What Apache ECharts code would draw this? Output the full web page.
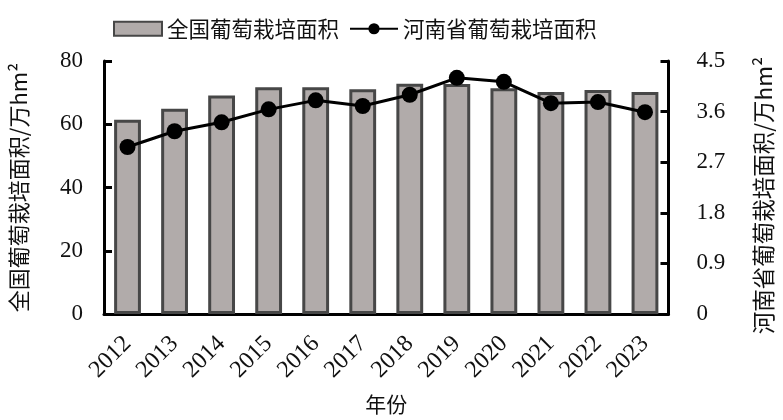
<!DOCTYPE html>
<html><head><meta charset="utf-8">
<script src="https://cdn.jsdelivr.net/npm/echarts@6/dist/echarts.min.js"></script>
<style>html,body{margin:0;padding:0;background:#fff}#c{width:783px;height:420px}</style>
</head><body><div id="c"></div>
<script>
const years = ['2012','2013','2014','2015','2016','2017','2018','2019','2020','2021','2022','2023'];
const nationalArea = [61.4, 64.9, 69.1, 71.7, 71.7, 71.1, 72.8, 72.7, 71.4, 70.2, 70.8, 70.2];
const henanArea = [2.97, 3.25, 3.41, 3.64, 3.80, 3.70, 3.90, 4.20, 4.13, 3.75, 3.77, 3.59];
const leftTicks = [0, 20, 40, 60, 80];
const rightTicks = ['0', '0.9', '1.8', '2.7', '3.6', '4.5'];

const serif = '"Liberation Serif","Times New Roman",serif';
const cjk = '"Noto Sans CJK SC",sans-serif';
const chart = echarts.init(document.getElementById('c'), null, {renderer:'canvas'});
chart.setOption({
  animation:false,
  backgroundColor:'#fff',
  legend:{
    top:13, left:108, itemGap:10, itemWidth:48, itemHeight:14,
    textStyle:{fontFamily:cjk, fontSize:21.5, color:'#111'},
    data:[
      {name:'全国葡萄栽培面积', icon:'rect'},
      {name:'河南省葡萄栽培面积'}
    ]
  },
  grid:{left:103, right:112, top:61, bottom:105},
  xAxis:{
    type:'category', data:years,
    name:'年份', nameLocation:'middle', nameGap:80,
    nameTextStyle:{fontFamily:cjk, fontSize:21, color:'#111'},
    axisLine:{lineStyle:{color:'#000', width:3}},
    axisTick:{show:false},
    axisLabel:{rotate:45, fontFamily:serif, fontSize:24, color:'#111', margin:26}
  },
  yAxis:[
    {
      type:'value', min:0, max:80, interval:20,
      name:'全国葡萄栽培面积/万hm²', nameLocation:'middle', nameGap:74,
      nameTextStyle:{fontFamily:cjk, fontSize:22, color:'#111'},
      axisLine:{show:true, lineStyle:{color:'#000', width:3}},
      axisTick:{show:true, inside:true, length:8, lineStyle:{color:'#000', width:3}},
      splitLine:{show:false},
      axisLabel:{fontFamily:serif, fontSize:23, color:'#111', margin:21,
        formatter:v=>leftTicks.includes(v)?String(v):''}
    },
    {
      type:'value', min:0, max:4.5, interval:0.9,
      name:'河南省葡萄栽培面积/万hm²', nameLocation:'middle', nameGap:84,
      nameTextStyle:{fontFamily:cjk, fontSize:22.5, color:'#111', padding:[0,16,0,0]},
      axisLine:{show:true, lineStyle:{color:'#000', width:3}},
      axisTick:{show:true, inside:true, length:8, lineStyle:{color:'#000', width:3}},
      splitLine:{show:false},
      axisLabel:{fontFamily:serif, fontSize:23, color:'#111', margin:28,
        formatter:(v,i)=>rightTicks[i] !== undefined ? rightTicks[i] : ''}
    }
  ],
  series:[
    {
      name:'全国葡萄栽培面积', type:'bar', data:nationalArea, yAxisIndex:0,
      barWidth:'57%',
      itemStyle:{color:'#b1abaa', borderColor:'#474747', borderWidth:3}
    },
    {
      name:'河南省葡萄栽培面积', type:'line', data:henanArea, yAxisIndex:1,
      symbol:'circle', symbolSize:16,
      lineStyle:{color:'#000', width:3},
      itemStyle:{color:'#000'}
    }
  ]
});
</script></body></html>
